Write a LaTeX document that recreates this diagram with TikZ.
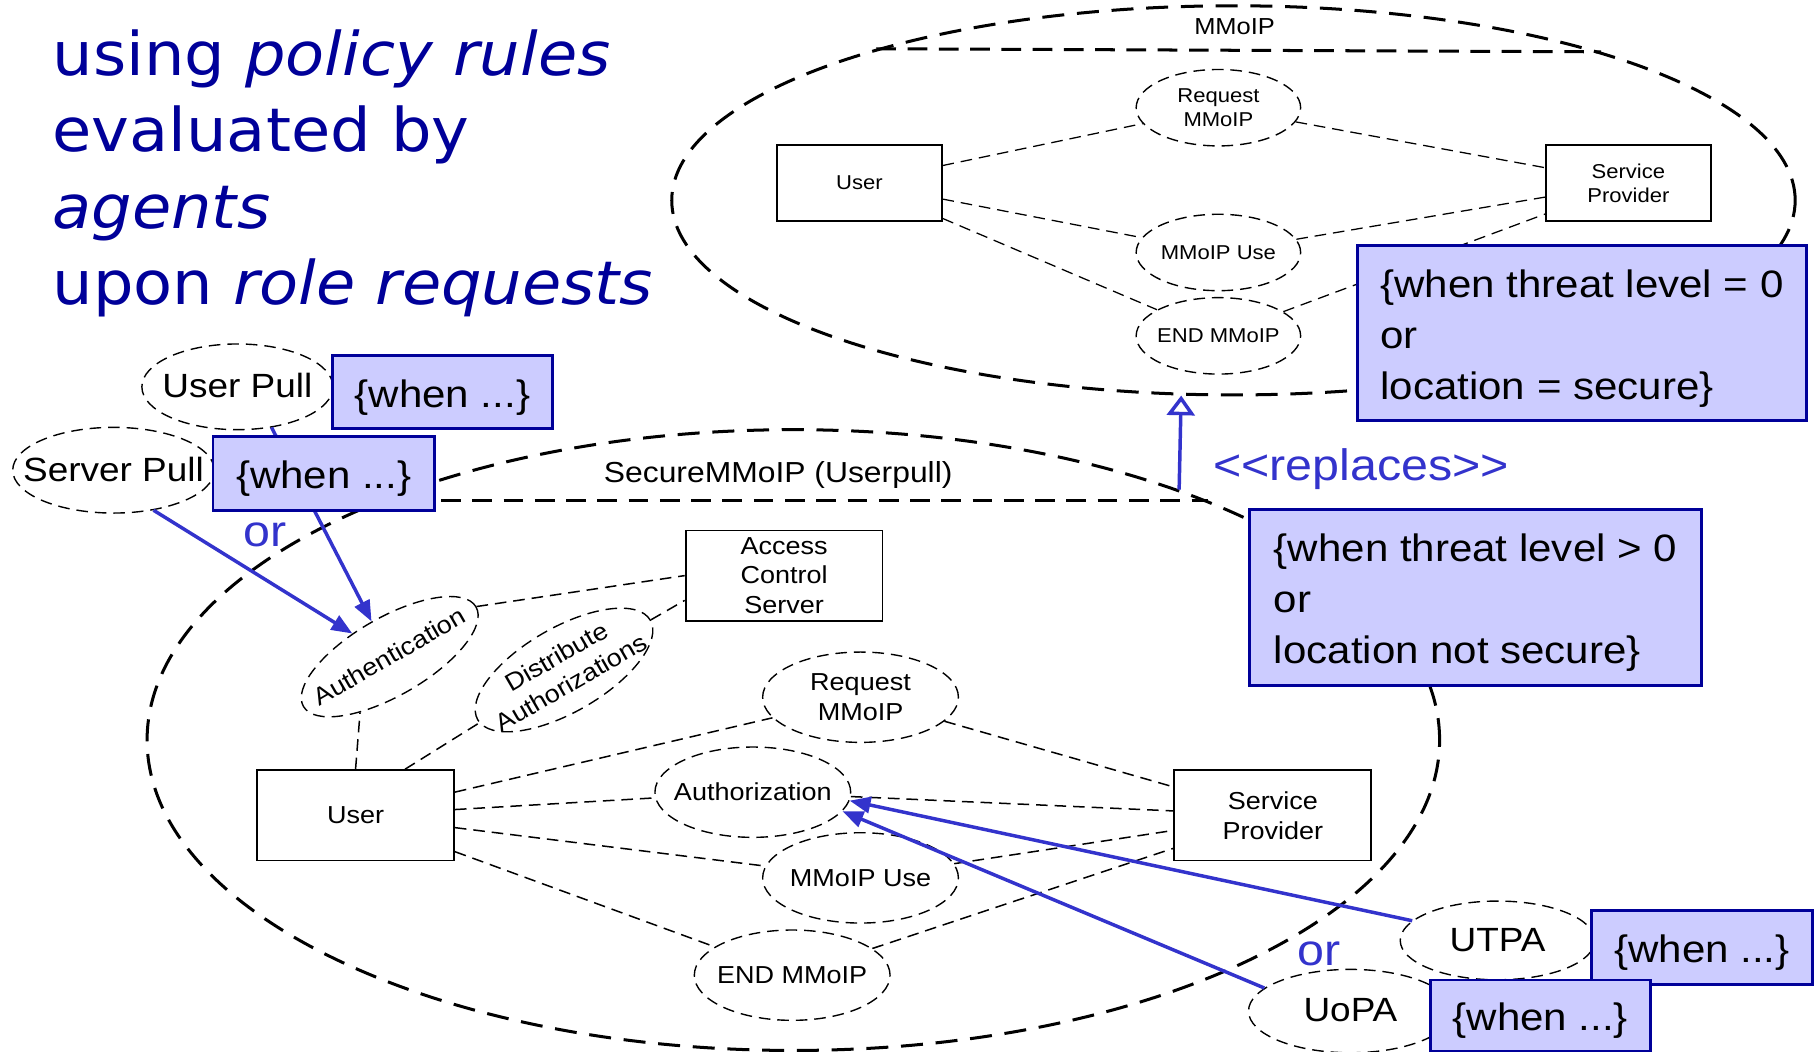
\documentclass[tikz,border=0pt]{standalone}
\usepackage{fontspec}
\setmainfont{Liberation Sans}[FakeStretch=1.1]
\newfontfamily\headfont{DejaVu Sans}[FakeStretch=1.06]
\usetikzlibrary{shapes.geometric,arrows.meta}

\definecolor{navy}{RGB}{0,0,153}
\definecolor{rulefill}{RGB}{204,204,255}
\definecolor{linkblue}{RGB}{51,51,204}

% centred (multi-line) label that does not widen its shape; ink lowered a little
\newcommand\ctext[1]{\makebox[0pt]{\raisebox{-0.09em}[\height][\depth]{\begin{tabular}{@{}c@{}}#1\end{tabular}}}}
\newcommand\rulestrut{\rule{0pt}{16.5pt}}
\newcommand\fsTop{\fontsize{8.65}{10.35}\selectfont}
\newcommand\fsMain{\fontsize{10.6}{12.9}\selectfont}
\newcommand\fsPull{\fontsize{14.5}{17}\selectfont}
\newcommand\fsRule{\fontsize{16.5}{22}\selectfont}
\newcommand\fsBig{\fontsize{19}{23}\selectfont}
\newcommand\fsHead{\headfont\fontsize{26}{33}\selectfont}

\tikzset{
  scopeellipse/.style={ellipse, draw, line width=1.3pt, dash pattern=on 9.5pt off 5.5pt, inner sep=0pt},
  scopeline/.style={draw, line width=1.3pt, dash pattern=on 8.5pt off 5pt},
  usecase/.style={ellipse, draw, line width=0.6pt, dash pattern=on 5pt off 3pt, inner sep=0pt},
  actorbox/.style={rectangle, draw, line width=0.8pt, inner sep=0pt, align=center},
  assoc/.style={draw, line width=0.65pt, dash pattern=on 5pt off 3pt},
  rulebox/.style={rectangle, draw=navy, fill=rulefill, line width=1.1pt, inner sep=0pt, font=\fsRule},
  agentlink/.style={draw=linkblue, line width=1.5pt, -{Triangle[length=9pt,width=7pt]}},
  replacelink/.style={draw=linkblue, line width=1.5pt, -{Triangle[open,length=8.5pt,width=12pt,fill=white]}},
  plaintext/.style={inner sep=0pt, anchor=base west},
}

\begin{document}
\begin{tikzpicture}[x=0.5pt, y=-0.5pt]
\useasboundingbox (0,0) rectangle (1568,908);

% heading
\node[plaintext, font=\fsHead, text=navy] (head1) at (45,65) {using \textit{policy rules}};
\node[plaintext, font=\fsHead, text=navy] (head2) at (45,131) {evaluated by};
\node[plaintext, font=\fsHead, text=navy] (head3) at (45,197) {\textit{agents}};
\node[plaintext, font=\fsHead, text=navy] (head4) at (45,263) {upon \textit{role requests}};

% ---- plain MMoIP collaboration ----
\node[scopeellipse, minimum width=485pt, minimum height=168pt] (mmoip) at (1065,173) {};
\draw[scopeline] (mmoip.157.5) -- (mmoip.22.5);
\node[inner sep=0pt, anchor=base, font=\fontsize{10}{12}\selectfont] (mmoiplabel) at (1066,30) {MMoIP};

\node[actorbox, minimum width=71pt, minimum height=32.5pt, font=\fsTop] (tuser) at (742,158) {User};
\node[actorbox, minimum width=71pt, minimum height=32.5pt, font=\fsTop] (tsp) at (1406,158) {Service\\Provider};
\node[usecase, minimum width=71pt, minimum height=33pt, font=\fsTop] (treq) at (1052,93) {\ctext{Request\\MMoIP}};
\node[usecase, minimum width=71pt, minimum height=33pt, font=\fsTop] (tuse) at (1052,218) {\ctext{MMoIP Use}};
\node[usecase, minimum width=71pt, minimum height=33pt, font=\fsTop] (tend) at (1052,290) {\ctext{END MMoIP}};

\draw[assoc, line width=0.55pt] (tuser) -- (treq);
\draw[assoc, line width=0.55pt] (tuser) -- (tuse);
\draw[assoc, line width=0.55pt] (tuser) -- (tend);
\draw[assoc, line width=0.55pt] (treq) -- (tsp);
\draw[assoc, line width=0.55pt] (tuse) -- (tsp);
\draw[assoc, line width=0.55pt] (tend) -- (tsp);

% ---- secure MMoIP collaboration ----
\node[scopeellipse, minimum width=558pt, minimum height=268pt] (secure) at (685,639) {};
\draw[scopeline] (secure.150) -- (secure.30);
\node[plaintext, font=\fontsize{12.5}{15}\selectfont] (securelabel) at (521,417) {SecureMMoIP (Userpull)};

\node[actorbox, minimum width=85pt, minimum height=39pt, font=\fsMain] (buser) at (307,704) {User};
\node[actorbox, minimum width=85pt, minimum height=39pt, font=\fsMain] (bsp) at (1099,704) {Service\\Provider};
\node[actorbox, minimum width=85pt, minimum height=39pt, font=\fsMain] (acs) at (677,497) {Access\\Control\\Server};

\node[usecase, rotate=30, minimum width=86pt, minimum height=33.6pt, font=\fsMain] (auth) at (336.5,567) {\ctext{Authentication}};
\node[usecase, rotate=30, minimum width=86pt, minimum height=33pt, font=\fsMain] (dist) at (487,578.5) {\ctext{Distribute\\Authorizations}};
\node[usecase, minimum width=84.5pt, minimum height=39pt, font=\fsMain] (breq) at (743,602) {\ctext{Request\\MMoIP}};
\node[usecase, minimum width=84.5pt, minimum height=39pt, font=\fsMain] (authz) at (650,684) {\ctext{Authorization}};
\node[usecase, minimum width=84.5pt, minimum height=39pt, font=\fsMain] (buse) at (743,758) {\ctext{MMoIP Use}};
\node[usecase, minimum width=84.5pt, minimum height=39pt, font=\fsMain] (bend) at (684,842) {\ctext{END MMoIP}};

\draw[assoc] (buser.north) -- (auth.212);
\draw[assoc] (buser.43) -- (dist);
\draw[assoc] (auth.east) -- (acs.west);
\draw[assoc] (dist.east) -- (acs.194);
\draw[assoc] (buser) -- (breq);
\draw[assoc] (buser) -- (authz);
\draw[assoc] (buser) -- (buse);
\draw[assoc] (buser) -- (bend);
\draw[assoc] (breq) -- (bsp);
\draw[assoc] (authz) -- (bsp);
\draw[assoc] (buse) -- (bsp);
\draw[assoc] (bend) -- (bsp);

% agents
\node[usecase, minimum width=82.5pt, minimum height=37pt, font=\fsPull] (upull) at (205,334) {\ctext{User Pull}};
\node[usecase, minimum width=87pt, minimum height=37pt, font=\fsPull] (spull) at (98,406) {\ctext{Server Pull}};
\node[usecase, minimum width=84pt, minimum height=34pt, font=\fsPull] (utpa) at (1293,812) {\ctext{UTPA}};
\node[usecase, minimum width=88pt, minimum height=36pt, font=\fsPull] (uopa) at (1166,873) {\ctext{UoPA}};

\draw[agentlink] (spull.-45) -- (auth);
\draw[agentlink] (upull.-50) -- (auth);
\draw[agentlink] (utpa.167) -- (authz.-5);
\draw[agentlink] (uopa.165) -- (authz.-12);

% replacement relation
\draw[replacelink] (secure.33.45) -- (mmoip.255.6);
\node[plaintext, font=\fsBig, text=linkblue] (replaces) at (1047,414.5) {<{}<replaces>{}>};
\node[plaintext, font=\fsBig, text=linkblue] (orpull) at (210,472) {or};
\node[plaintext, font=\fsBig, text=linkblue] (oragent) at (1120,834) {or};

% policy rule notes
\node[rulebox, minimum width=95pt, minimum height=31.5pt] (upullrule) at (382,338.5) {\rulestrut\{when ...\}};
\node[rulebox, minimum width=95.5pt, minimum height=32pt] (spullrule) at (279.5,409) {\rulestrut\{when ...\}};
\node[rulebox, minimum width=95.5pt, minimum height=32pt] (utparule) at (1469.5,818) {\rulestrut\{when ...\}};
\node[rulebox, minimum width=95pt, minimum height=31pt] (uoparule) at (1330,877) {\rulestrut\{when ...\}};
\node[rulebox, minimum width=194pt, minimum height=75.5pt, inner xsep=9.5pt, align=left] (saferule) at (1366,287.5)
  {\rulestrut\{when threat level = 0\\or\\location = secure\}};
\node[rulebox, minimum width=195pt, minimum height=76pt, inner xsep=10.5pt, align=left] (unsaferule) at (1274,516)
  {\rulestrut\{when threat level > 0\\or\\location not secure\}};
\end{tikzpicture}
\end{document}
